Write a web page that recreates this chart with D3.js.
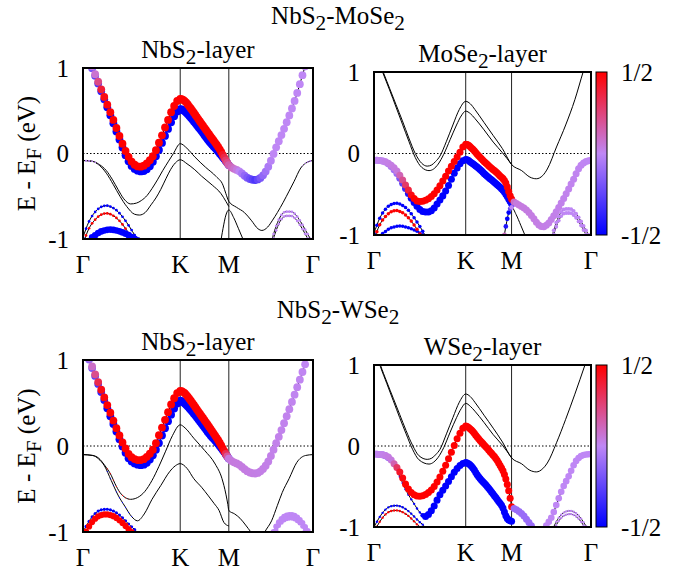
<!DOCTYPE html>
<html>
<head>
<meta charset="utf-8">
<script src="https://cdn.jsdelivr.net/npm/d3@7"></script>
<style>
  body { margin: 0; background: #fff; }
  svg, svg text { font-family: "Liberation Serif", "Times New Roman", Times, "DejaVu Serif", serif; }
</style>
</head>
<body>
<svg id="chart" width="692" height="574"></svg>
<script>
// k-path: Γ - K - M - Γ
const kTicks = [0, 1, 1.5, 2.366];
const kTickLabels = ["Γ", "K", "M", "Γ"];
const eTicks = [-1, 0, 1];
const cbTicks = [0.5, -0.5];
const cbTickLabels = ["1/2", "-1/2"];

// ---------- NbS2-MoSe2 bands ----------
const nbUpMo_k = [0, 0.10, 0.17, 0.24, 0.31, 0.38, 0.45, 0.52, 0.58, 0.63, 0.67, 0.72, 0.79, 0.86, 0.93, 1.0, 1.05, 1.1, 1.2, 1.3, 1.4, 1.5, 1.61, 1.70, 1.77, 1.84, 1.89, 1.99, 2.09, 2.19, 2.28, 2.366];
const nbUpMo_E = [1.30, 1.00, 0.80, 0.60, 0.40, 0.19, 0.00, -0.12, -0.155, -0.14, -0.10, -0.03, 0.15, 0.35, 0.54, 0.64, 0.61, 0.54, 0.38, 0.22, 0.06, -0.135, -0.21, -0.29, -0.31, -0.27, -0.19, 0.08, 0.35, 0.66, 1.00, 1.30];
const nbDnMo_k = [0, 0.10, 0.17, 0.24, 0.31, 0.38, 0.45, 0.52, 0.60, 0.65, 0.70, 0.76, 0.83, 0.90, 0.95, 1.0, 1.05, 1.1, 1.2, 1.3, 1.4, 1.5];
const nbDnMo_E = [1.28, 0.98, 0.78, 0.57, 0.36, 0.15, -0.05, -0.17, -0.21, -0.19, -0.13, -0.01, 0.17, 0.35, 0.46, 0.52, 0.49, 0.43, 0.29, 0.14, 0.01, -0.135];
const moUp_k = [0, 0.09, 0.17, 0.24, 0.30, 0.36, 0.42, 0.49, 0.55, 0.60, 0.66, 0.71, 0.77, 0.82, 0.88, 0.93, 1.0, 1.07, 1.15, 1.26, 1.37, 1.44, 1.47, 1.5, 1.58, 1.66, 1.73, 1.80, 1.84, 1.90, 1.95, 2.00, 2.06, 2.12, 2.17, 2.24, 2.31, 2.366];
const moUp_E = [-0.082, -0.09, -0.13, -0.20, -0.30, -0.42, -0.53, -0.59, -0.58, -0.55, -0.49, -0.41, -0.30, -0.20, -0.09, 0.00, 0.115, 0.06, -0.04, -0.16, -0.27, -0.37, -0.47, -0.56, -0.63, -0.69, -0.78, -0.88, -0.90, -0.86, -0.78, -0.69, -0.57, -0.44, -0.33, -0.17, -0.10, -0.082];
const moDn_k = [0, 0.09, 0.17, 0.24, 0.31, 0.38, 0.45, 0.53, 0.58, 0.64, 0.70, 0.75, 0.80, 0.855, 0.90, 0.95, 1.0, 1.07, 1.15, 1.22, 1.33, 1.42, 1.47, 1.5];
const moDn_E = [-0.082, -0.09, -0.14, -0.23, -0.36, -0.50, -0.62, -0.71, -0.72, -0.69, -0.60, -0.52, -0.42, -0.29, -0.19, -0.11, -0.073, -0.12, -0.19, -0.265, -0.37, -0.47, -0.56, -0.62];
const moSteep_k = [1.41, 1.44, 1.47, 1.5, 1.55, 1.6, 1.66];
const moSteep_E = [-1.08, -0.88, -0.72, -0.66, -0.75, -0.88, -1.04];
const arcMo_k = [0, 0.06, 0.12, 0.18, 0.24, 0.30, 0.36, 0.42, 0.48, 0.54, 0.58];
const arcAMo_E = [-0.98, -0.80, -0.69, -0.63, -0.61, -0.63, -0.68, -0.76, -0.86, -0.97, -1.05];
const arcBMo_E = [-1.06, -0.88, -0.78, -0.72, -0.70, -0.72, -0.77, -0.85, -0.95, -1.06, -1.12];
const arcCMo_k = [0.07, 0.12, 0.17, 0.22, 0.28, 0.34, 0.40, 0.46, 0.52, 0.57];
const arcCMo_E = [-1.0, -0.96, -0.92, -0.90, -0.89, -0.90, -0.92, -0.95, -0.99, -1.02];
const arcRMo_k = [1.94, 1.99, 2.04, 2.09, 2.14, 2.19, 2.24, 2.29, 2.35];
const arcDMo_E = [-1.02, -0.84, -0.72, -0.68, -0.68, -0.72, -0.80, -0.90, -1.02];
const arcEMo_E = [-1.07, -0.89, -0.77, -0.73, -0.73, -0.77, -0.85, -0.95, -1.07];

// ---------- NbS2-WSe2 bands ----------
const nbUpW_k = [0, 0.07, 0.14, 0.21, 0.28, 0.35, 0.42, 0.49, 0.58, 0.63, 0.67, 0.72, 0.79, 0.86, 0.93, 1.0, 1.05, 1.1, 1.2, 1.3, 1.4, 1.5, 1.61, 1.70, 1.77, 1.84, 1.89, 1.99, 2.09, 2.19, 2.30, 2.366];
const nbUpW_E = [1.25, 1.00, 0.79, 0.59, 0.39, 0.19, 0.01, -0.12, -0.165, -0.15, -0.11, -0.04, 0.15, 0.35, 0.54, 0.642, 0.61, 0.54, 0.38, 0.22, 0.05, -0.146, -0.22, -0.30, -0.32, -0.28, -0.21, 0.04, 0.33, 0.64, 1.0, 1.22];
const nbDnW_k = [0, 0.07, 0.14, 0.21, 0.28, 0.35, 0.42, 0.49, 0.60, 0.65, 0.70, 0.76, 0.83, 0.90, 0.95, 1.0, 1.05, 1.1, 1.2, 1.3, 1.4, 1.5];
const nbDnW_E = [1.23, 0.98, 0.77, 0.56, 0.35, 0.15, -0.04, -0.17, -0.223, -0.20, -0.14, -0.02, 0.17, 0.35, 0.46, 0.527, 0.49, 0.43, 0.29, 0.14, 0.01, -0.146];
const wUp_k = [0, 0.1, 0.16, 0.22, 0.29, 0.33, 0.38, 0.435, 0.49, 0.56, 0.635, 0.71, 0.78, 0.85, 0.92, 1.0, 1.05, 1.14, 1.25, 1.36, 1.43, 1.47, 1.49, 1.5, 1.56, 1.615, 1.68, 1.72, 1.76];
const wUp_E = [-0.10, -0.11, -0.14, -0.22, -0.34, -0.44, -0.54, -0.60, -0.62, -0.60, -0.53, -0.40, -0.24, -0.06, 0.12, 0.246, 0.21, 0.09, -0.05, -0.21, -0.38, -0.56, -0.68, -0.75, -0.79, -0.84, -0.93, -0.99, -1.06];
const wDn_k = [0, 0.1, 0.16, 0.22, 0.29, 0.36, 0.43, 0.50, 0.56, 0.63, 0.71, 0.80, 0.89, 0.95, 1.0, 1.07, 1.14, 1.22, 1.29, 1.35, 1.40, 1.45, 1.5];
const wDn_E = [-0.10, -0.11, -0.15, -0.23, -0.40, -0.57, -0.70, -0.82, -0.87, -0.79, -0.62, -0.46, -0.30, -0.23, -0.205, -0.26, -0.38, -0.48, -0.58, -0.67, -0.75, -0.89, -0.93];
const wRise_k = [1.82, 1.87, 1.94, 2.0, 2.05, 2.12, 2.2, 2.29, 2.366];
const wRise_E = [-1.12, -1.0, -0.87, -0.69, -0.54, -0.38, -0.19, -0.11, -0.10];
const arcW_k = [0, 0.06, 0.12, 0.18, 0.24, 0.30, 0.36, 0.42, 0.48, 0.54, 0.58];
const arcAW_E = [-1.0, -0.88, -0.79, -0.745, -0.735, -0.75, -0.79, -0.85, -0.92, -0.98, -1.03];
const arcBW_E = [-1.06, -0.94, -0.85, -0.805, -0.795, -0.81, -0.85, -0.91, -0.98, -1.04, -1.09];
const arcRW_k = [1.94, 1.99, 2.04, 2.09, 2.14, 2.19, 2.24, 2.29, 2.34];
const arcDW_E = [-1.05, -0.93, -0.85, -0.81, -0.80, -0.82, -0.87, -0.95, -1.04];
const arcEW_E = [-1.09, -0.97, -0.89, -0.85, -0.84, -0.86, -0.91, -0.99, -1.08];

// ---------- layer projections: [k, spin] and [k, weight] nodes ----------
const UP = 0.5, DN = -0.5;
const projNbOfMo = {
  nbDn: { spin: [[0, 0], [0.15, -0.3], [0.25, DN], [1.5, DN]], w: [[0, 1], [1.5, 1]] },
  nbUp: { spin: [[0, 0], [0.12, 0.05], [0.2, 0.45], [0.3, UP], [1.42, UP], [1.5, 0.15], [1.58, 0.05], [1.68, -0.15], [1.77, -0.3], [1.86, -0.1], [1.95, 0], [2.366, 0]], w: [[0, 1], [2.366, 1]] },
  moUp: { spin: [[0, 0]], w: [[0, 0.25], [0.12, 0.2], [0.2, 0], [2.2, 0], [2.28, 0.2], [2.366, 0.25]] },
  moDn: { spin: [[0, 0]], w: [[0, 0.25], [0.12, 0.2], [0.2, 0]] },
  arcA: { spin: [[0, DN]], w: [[0, 0.35]] },
  arcB: { spin: [[0, UP]], w: [[0, 0.35]] },
  arcC: { spin: [[0, DN]], w: [[0, 0.85]] },
  arcD: { spin: [[0, 0]], w: [[0, 0.35]] },
  arcE: { spin: [[0, 0]], w: [[0, 0.35]] }
};
const projMoOfMo = {
  moDn: { spin: [[0, 0], [0.25, -0.1], [0.4, DN], [1.5, DN]], w: [[0, 0.9]] },
  moUp: { spin: [[0, 0], [0.25, 0.05], [0.33, 0.25], [0.42, UP], [1.5, UP], [1.53, 0.05], [2.366, 0]], w: [[0, 0.9]] },
  steep: { spin: [[1.41, UP], [1.44, DN], [1.47, DN], [1.5, 0]], w: [[0, 0.6], [1.5, 0.6], [1.52, 0]] },
  arcA: { spin: [[0, DN]], w: [[0, 0.45]] },
  arcB: { spin: [[0, UP]], w: [[0, 0.45]] },
  arcC: { spin: [[0, DN]], w: [[0, 0.45]] },
  arcD: { spin: [[0, 0]], w: [[0, 0.5]] },
  arcE: { spin: [[0, 0]], w: [[0, 0.5]] }
};
const projNbOfW = {
  nbDn: { spin: [[0, 0], [0.15, -0.3], [0.25, DN], [1.5, DN]], w: [[0, 1]] },
  nbUp: { spin: [[0, 0], [0.1, 0.1], [0.18, 0.45], [0.25, UP], [1.45, UP], [1.5, 0.05], [2.366, 0]], w: [[0, 1]] },
  wUp: { spin: [[0, UP]], w: [[0.2, 0], [0.25, 0.15], [0.45, 0.15], [0.5, 0]] },
  wDn: { spin: [[0, DN]], w: [[0.2, 0], [0.25, 0.15], [0.5, 0.15], [0.55, 0]] },
  arcA: { spin: [[0, DN]], w: [[0, 0.4]] },
  arcB: { spin: [[0, UP]], w: [[0, 0.8]] },
  arcD: { spin: [[0, 0]], w: [[0, 0.75]] },
  arcE: { spin: [[0, 0]], w: [[0, 0.6]] }
};
const projWOfW = {
  wDn: { spin: [[0, 0], [0.2, -0.2], [0.3, DN], [1.5, DN]], w: [[0, 0.9], [0.15, 0.9], [0.22, 0.3], [0.5, 0.3], [0.56, 0.9], [1.5, 0.9]] },
  wUp: { spin: [[0, 0], [0.2, 0.05], [0.27, 0.4], [0.33, UP], [1.5, UP], [1.52, -0.1], [1.76, -0.1]], w: [[0, 0.9]] },
  wRise: { spin: [[0, 0]], w: [[0, 0.85]] },
  arcA: { spin: [[0, DN]], w: [[0, 0.3]] },
  arcB: { spin: [[0, UP]], w: [[0, 0.3]] },
  arcD: { spin: [[0, 0]], w: [[0, 0.3]] },
  arcE: { spin: [[0, 0]], w: [[0, 0.3]] }
};

const bandsMo = {
  nbUp: [nbUpMo_k, nbUpMo_E], nbDn: [nbDnMo_k, nbDnMo_E],
  moUp: [moUp_k, moUp_E], moDn: [moDn_k, moDn_E], steep: [moSteep_k, moSteep_E],
  arcA: [arcMo_k, arcAMo_E], arcB: [arcMo_k, arcBMo_E], arcC: [arcCMo_k, arcCMo_E],
  arcD: [arcRMo_k, arcDMo_E], arcE: [arcRMo_k, arcEMo_E]
};
const bandsW = {
  nbUp: [nbUpW_k, nbUpW_E], nbDn: [nbDnW_k, nbDnW_E],
  wUp: [wUp_k, wUp_E], wDn: [wDn_k, wDn_E], wRise: [wRise_k, wRise_E],
  arcA: [arcW_k, arcAW_E], arcB: [arcW_k, arcBW_E],
  arcD: [arcRW_k, arcDW_E], arcE: [arcRW_k, arcEW_E]
};

const panels = [
  { title: [["NbS"], ["2", 1], ["-layer"]], bands: bandsMo, proj: projNbOfMo, box: [83, 68, 313, 239], ylabel: true,
    order: ["moUp", "moDn", "steep", "arcA", "arcB", "arcC", "arcD", "arcE", "nbDn", "nbUp"] },
  { title: [["MoSe"], ["2", 1], ["-layer"]], bands: bandsMo, proj: projMoOfMo, box: [374, 72, 591, 235], colorbar: true,
    order: ["nbUp", "nbDn", "arcC", "arcA", "arcB", "arcD", "arcE", "moDn", "moUp", "steep"] },
  { title: [["NbS"], ["2", 1], ["-layer"]], bands: bandsW, proj: projNbOfW, box: [83, 360, 313, 532], ylabel: true,
    order: ["wUp", "wDn", "wRise", "arcA", "arcB", "arcD", "arcE", "nbDn", "nbUp"] },
  { title: [["WSe"], ["2", 1], ["-layer"]], bands: bandsW, proj: projWOfW, box: [374, 365, 591, 527], colorbar: true,
    order: ["nbUp", "nbDn", "arcA", "arcB", "arcD", "arcE", "wDn", "wUp", "wRise"] }
];
const figTitles = [
  { parts: [["NbS"], ["2", 1], ["-MoSe"], ["2", 1]], y: 24 },
  { parts: [["NbS"], ["2", 1], ["-WSe"], ["2", 1]], y: 318 }
];

const FS = 25;
const FONT = "'Liberation Serif', 'Times New Roman', Times, 'DejaVu Serif', serif";
const svg = d3.select("#chart").attr("font-family", FONT);
const defs = svg.append("defs");
const color = d3.scaleLinear().domain([-0.5, 0, 0.5]).range(["#0000ff", "#bf87f5", "#ff0000"]);
const radius = d3.scaleLinear().domain([0, 1]).range([0, 3.9]);
const segments = [[0, 1], [1, 1.5], [1.5, 2.366]];
const nPerSeg = 32;

function richText(g, parts, x, y, anchor, size) {
  const t = g.append("text").attr("x", x).attr("y", y).attr("font-family", FONT)
    .attr("text-anchor", anchor).attr("font-size", size).attr("fill", "#000");
  let shifted = false;
  parts.forEach(([s, sub]) => {
    const ts = t.append("tspan").text(s);
    if (sub && !shifted) { ts.attr("dy", size * 0.25).attr("font-size", size * 0.85); shifted = true; }
    else if (!sub && shifted) { ts.attr("dy", -size * 0.25); shifted = false; }
  });
  return t;
}

function nodeScale(nodes) {
  return d3.scaleLinear().domain(nodes.map(d => d[0])).range(nodes.map(d => d[1])).clamp(true);
}

// k positions where the band was sampled (equal count per path segment)
function sampleKs(k0, k1) {
  const out = [];
  segments.forEach(([a, b], si) => {
    const n = si === 2 ? nPerSeg + 1 : nPerSeg;
    for (let i = 0; i < n; i++) {
      const k = a + (b - a) * i / nPerSeg;
      if (k >= k0 - 1e-9 && k <= k1 + 1e-9) out.push(k);
    }
  });
  return out;
}

// walk along the drawn curve and pick the point at each requested x
function pointsAtX(node, xs) {
  const L = node.getTotalLength();
  const res = [];
  let j = 0;
  let prev = node.getPointAtLength(0);
  for (let s = 0; s <= L + 0.5 && j < xs.length; s += 0.5) {
    const p = node.getPointAtLength(Math.min(s, L));
    while (j < xs.length && p.x >= xs[j] - 1e-6) {
      const t = p.x === prev.x ? 0 : (xs[j] - prev.x) / (p.x - prev.x);
      res.push({ i: j, x: xs[j], y: prev.y + t * (p.y - prev.y) });
      j++;
    }
    prev = p;
  }
  return res;
}

panels.forEach((p, pi) => {
  const [x0, y0, x1, y1] = p.box;
  const x = d3.scaleLinear().domain([0, 2.366]).range([x0, x1]);
  const y = d3.scaleLinear().domain([-1, 1]).range([y1, y0]);
  const g = svg.append("g");

  defs.append("clipPath").attr("id", "clip" + pi)
    .append("rect").attr("x", x0).attr("y", y0).attr("width", x1 - x0).attr("height", y1 - y0);
  const plot = g.append("g").attr("clip-path", `url(#clip${pi})`);

  plot.append("line").attr("x1", x0).attr("x2", x1).attr("y1", y(0)).attr("y2", y(0))
    .attr("stroke", "#000").attr("stroke-width", 1).attr("stroke-dasharray", "1.5,2");
  plot.selectAll(".kline").data(kTicks.slice(1, 3)).join("line")
    .attr("x1", d => x(d)).attr("x2", d => x(d)).attr("y1", y0).attr("y2", y1)
    .attr("stroke", "#222").attr("stroke-width", 1);

  const line = d3.line().x(d => x(d[0])).y(d => y(d[1])).curve(d3.curveMonotoneX);
  const nodes = {};
  p.order.forEach(name => {
    const [ks, es] = p.bands[name];
    nodes[name] = plot.append("path").attr("d", line(d3.zip(ks, es)))
      .attr("fill", "none").attr("stroke", "#000").attr("stroke-width", 1).node();
  });

  p.order.forEach(name => {
    const pr = p.proj[name];
    if (!pr) return;
    const ks = p.bands[name][0];
    const spin = nodeScale(pr.spin.length > 1 ? pr.spin : [pr.spin[0], [9, pr.spin[0][1]]]);
    const wt = nodeScale(pr.w.length > 1 ? pr.w : [pr.w[0], [9, pr.w[0][1]]]);
    const kSamples = sampleKs(ks[0], ks[ks.length - 1]);
    const pts = pointsAtX(nodes[name], kSamples.map(k => x(k)))
      .map(d => ({ ...d, k: kSamples[d.i] }))
      .filter(d => radius(wt(d.k)) > 0.3);
    plot.append("g").selectAll("circle").data(pts).join("circle")
      .attr("cx", d => d.x).attr("cy", d => d.y)
      .attr("r", d => radius(wt(d.k)))
      .attr("fill", d => color(spin(d.k)));
  });

  g.append("rect").attr("x", x0).attr("y", y0).attr("width", x1 - x0).attr("height", y1 - y0)
    .attr("fill", "none").attr("stroke", "#000").attr("stroke-width", 2);

  g.selectAll(".ytick").data(eTicks).join("text")
    .attr("x", x0 - 14).attr("y", d => y(d)).attr("dy", "0.35em").attr("font-family", FONT)
    .attr("text-anchor", "end").attr("font-size", FS).text(d => d === -1 ? "-1" : d);

  g.selectAll(".xtick").data(kTicks).join("text")
    .attr("x", d => x(d)).attr("y", y1 + 34).attr("font-family", FONT)
    .attr("text-anchor", "middle").attr("font-size", FS)
    .text((d, i) => kTickLabels[i]);

  richText(g, p.title, (x0 + x1) / 2, y0 - 10, "middle", FS);

  if (p.ylabel) {
    const yl = richText(g, [["E - E"], ["F", 1], [" (eV)"]], 0, 0, "middle", FS);
    yl.attr("transform", `translate(35,${y(0)}) rotate(-90)`);
  }

  if (p.colorbar) {
    const cx0 = 596, cw = 11;
    const gid = "cb" + pi;
    const grad = defs.append("linearGradient").attr("id", gid)
      .attr("x1", 0).attr("y1", 1).attr("x2", 0).attr("y2", 0);
    d3.range(-0.5, 0.5001, 0.05).forEach(v => {
      grad.append("stop").attr("offset", v + 0.5).attr("stop-color", color(v));
    });
    const cy = d3.scaleLinear().domain([-0.5, 0.5]).range([y1, y0]);
    g.append("rect").attr("x", cx0).attr("y", y0).attr("width", cw).attr("height", y1 - y0)
      .attr("fill", `url(#${gid})`).attr("stroke", "#000").attr("stroke-width", 1);
    g.selectAll(".cbtick").data(cbTicks).join("text")
      .attr("x", cx0 + cw + 14).attr("y", d => cy(d)).attr("dy", "0.35em").attr("font-family", FONT)
      .attr("font-size", FS).text((d, i) => cbTickLabels[i]);
  }
});

figTitles.forEach(t => richText(svg, t.parts, 338, t.y, "middle", FS));
</script>
</body>
</html>
